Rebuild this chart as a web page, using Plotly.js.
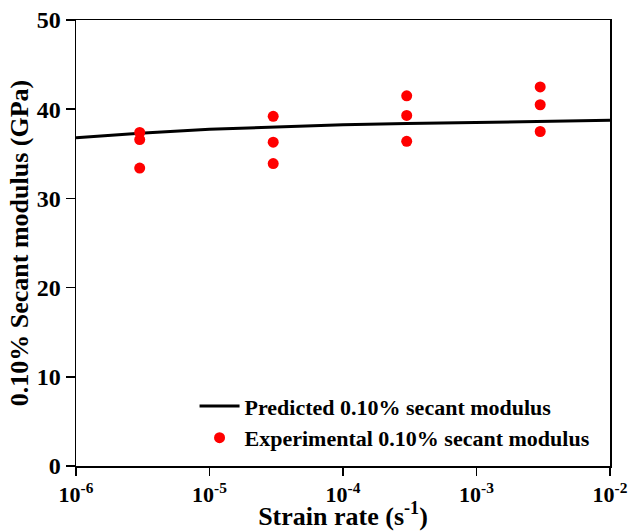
<!DOCTYPE html>
<html>
<head>
<meta charset="utf-8">
<script src="https://cdn.plot.ly/plotly-3.0.1.min.js"></script>
<style>html,body{margin:0;padding:0;background:#fff;}#chart{width:630px;height:531px;}</style>
</head>
<body>
<div id="chart"></div>
<script>
// Predicted curve
const predRate = [1e-6, 3e-6, 1e-5, 3e-5, 1e-4, 3e-4, 1e-3, 3e-3, 1e-2];
const predModulus = [36.8, 37.3, 37.75, 38.0, 38.25, 38.4, 38.5, 38.6, 38.75];
// Experimental points
const expRate = [3e-6, 3e-6, 3e-6, 3e-5, 3e-5, 3e-5, 3e-4, 3e-4, 3e-4, 3e-3, 3e-3, 3e-3];
const expModulus = [37.4, 36.6, 33.4, 39.2, 36.3, 33.9, 41.5, 39.3, 36.4, 42.5, 40.5, 37.5];
// Ticks
const xTickVals = [1e-6, 1e-5, 1e-4, 1e-3, 1e-2];
const xTickText = ['10<sup>-6</sup>', '10<sup>-5</sup>', '10<sup>-4</sup>', '10<sup>-3</sup>', '10<sup>-2</sup>'];
const yTickVals = [0, 10, 20, 30, 40, 50];

const font = {family: 'Liberation Serif, Times New Roman, serif', color: '#000', weight: 'bold'};

const traces = [
  {x: predRate, y: predModulus, mode: 'lines', type: 'scatter',
   name: 'Predicted 0.10% secant modulus',
   line: {color: '#000', width: 3}},
  {x: expRate, y: expModulus, mode: 'markers', type: 'scatter',
   name: 'Experimental 0.10% secant modulus',
   marker: {color: '#ff0000', size: 11}}
];

const layout = {
  width: 630, height: 531,
  margin: {l: 76, r: 20, t: 20, b: 65},
  paper_bgcolor: '#fff', plot_bgcolor: '#fff',
  font: Object.assign({size: 18}, font),
  showlegend: true,
  legend: {x: 0.222, y: 0.015, xanchor: 'left', yanchor: 'bottom',
           bgcolor: 'rgba(0,0,0,0)', font: Object.assign({size: 22}, font),
           tracegroupgap: 0, itemwidth: 40},
  xaxis: {type: 'log', range: [-6, -2], tickvals: xTickVals, ticktext: xTickText,
          ticks: 'outside', ticklen: 8, tickwidth: 1.5, tickcolor: '#000',
          showline: true, linecolor: '#000', linewidth: 1.5, mirror: true,
          showgrid: false, zeroline: false,
          tickfont: Object.assign({size: 22}, font),
          title: {text: 'Strain rate (s<sup>-1</sup>)', font: Object.assign({size: 26}, font), standoff: 3}},
  yaxis: {range: [0, 50], tickvals: yTickVals,
          ticks: 'outside', ticklen: 9, tickwidth: 1.5, tickcolor: '#000',
          showline: true, linecolor: '#000', linewidth: 1.5, mirror: true,
          showgrid: false, zeroline: false,
          tickfont: Object.assign({size: 24}, font),
          title: {text: '0.10% Secant modulus (GPa)', font: Object.assign({size: 26}, font), standoff: 0}}
};

Plotly.newPlot('chart', traces, layout, {displayModeBar: false, staticPlot: true});
</script>
</body>
</html>
